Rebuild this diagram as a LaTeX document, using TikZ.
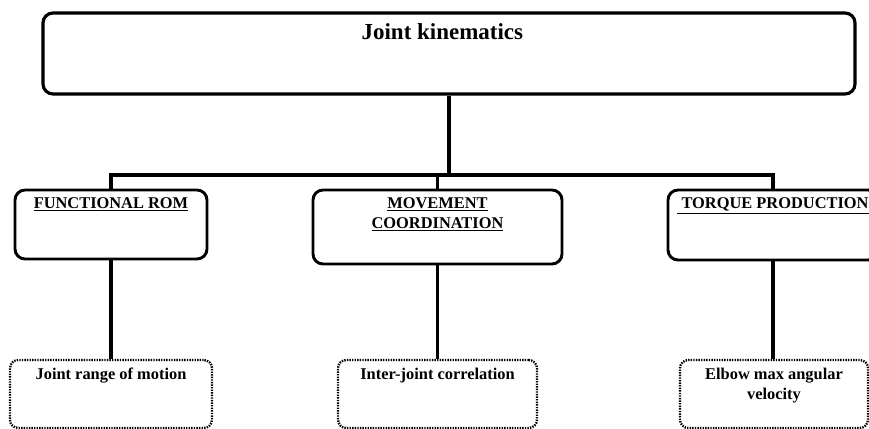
\documentclass[tikz,border=0pt]{standalone}
\usepackage{fontspec}
\setmainfont{Liberation Serif}
\begin{document}
\begin{tikzpicture}[x=0.03cm, y=-0.03cm,
  topbox/.style={draw, line width=2.7pt, rounded corners=0.3cm, inner sep=0pt},
  midbox/.style={draw, line width=2.5pt, rounded corners=0.3cm, inner sep=0pt},
  leafbox/.style={draw, line width=2pt, dash pattern=on 1.2pt off 1pt, rounded corners=0.25cm, inner sep=0pt},
  boxtext/.style={anchor=north, align=center, inner sep=0.27cm, font=\fontsize{14}{16.8}\selectfont\bfseries},
  toptext/.style={anchor=north, inner sep=0.36cm, font=\fontsize{19.6}{23}\selectfont\bfseries},
  link/.style={line width=2.6pt}]
% Frame
\useasboundingbox (0,0) rectangle (869,429);
\clip (0,0) rectangle (869,429);

% Top box
\node[topbox, minimum width=24.36cm, minimum height=2.43cm,
      label={[toptext, xshift=-0.2cm]north:Joint kinematics}] (kin) at (449,53.5) {};

% Second level
\node[midbox, minimum width=5.76cm, minimum height=2.07cm,
      label={[boxtext]north:\underline{FUNCTIONAL ROM}}] (rom) at (111,224.5) {};
\node[midbox, minimum width=7.47cm, minimum height=2.22cm,
      label={[boxtext]north:\underline{MOVEMENT}\\\underline{COORDINATION}}] (coord) at (437.5,227) {};
\node[midbox, minimum width=6.3cm, minimum height=2.1cm,
      label={[boxtext]north:\underline{\ TORQUE PRODUCTION}}] (torque) at (773,225) {};

% Third level
\node[leafbox, minimum width=6.06cm, minimum height=2.04cm,
      label={[boxtext]north:Joint range of motion}] (range) at (111,394) {};
\node[leafbox, minimum width=5.97cm, minimum height=2.04cm,
      label={[boxtext]north:Inter-joint correlation}] (corr) at (437.5,394) {};
\node[leafbox, minimum width=5.64cm, minimum height=2.04cm,
      label={[boxtext]north:Elbow max angular\\velocity}] (elbow) at (774,394) {};

% Connectors
\coordinate (bus) at (449,175);
\draw[link] (kin.south) -- (bus);
\draw[link] (rom.north) |- (bus) -| (torque.north);
\draw[link] (coord.north) -- (coord.north |- bus);
\draw[link] (rom.south) -- (rom.south |- range.north);
\draw[link] (coord.south) -- (coord.south |- corr.north);
\draw[link] (torque.south) -- (torque.south |- elbow.north);
\end{tikzpicture}
\end{document}
